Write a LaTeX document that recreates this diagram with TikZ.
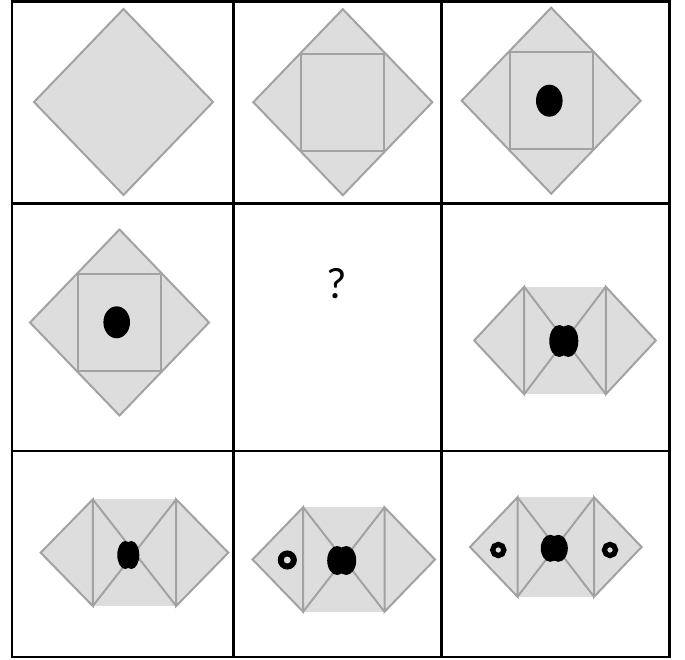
\documentclass[tikz,border=0pt]{standalone}
\usepackage{fontspec}
\setmainfont{Carlito}
\usepackage{xcolor}
\usepackage{tikz}

\definecolor{sheetfill}{HTML}{DDDDDD}
\definecolor{sheetline}{HTML}{A2A2A2}

\begin{document}
\begin{tikzpicture}[
  x=1pt, y=-1pt,
  gridline/.style={draw=black, line width=2.8pt},
  sheet/.style={fill=sheetfill, draw=sheetline, line width=2pt, line join=miter},
  crease/.style={draw=sheetline, line width=2pt},
  ring/.style={draw=black, line width=5pt}
]
\useasboundingbox (0,0) rectangle (685,660);

% --- cell 1: flat sheet ---
\draw[sheet] (34,102) -- (123.5,9) -- (213,102) -- (123.5,195) -- cycle;

% --- cells 2, 3, 4: corners folded in ---
\foreach \cx/\cy in {342.8/102.2, 551.2/100.7, 119.5/322.5}{
  \draw[sheet] ({\cx-89.5},\cy) -- (\cx,{\cy-93}) -- ({\cx+89.5},\cy) -- (\cx,{\cy+93}) -- cycle;
  \draw[crease] ({\cx-41.5},{\cy-48.5}) rectangle ({\cx+41.5},{\cy+48.5});
}

% punched hole
\foreach \dx/\dy in {549.3/100.7, 116.7/322.3}{
  \fill (\dx,\dy) ellipse [x radius=13.3pt, y radius=16pt];
}

% --- cells 6, 7, 8, 9: folded once more ---
\foreach \cx/\cy/\ho/\hi/\hh in {565/340.5/90.8/40.8/53.7, 134.5/552.7/93.8/41.7/53.3,
    343.8/559.5/91.2/40.7/52.2, 555.8/547/85.8/38.3/49.7}{
  \fill[sheetfill] ({\cx-\hi},{\cy-\hh}) rectangle ({\cx+\hi},{\cy+\hh});
  \draw[sheet] ({\cx-\hi},{\cy-\hh}) -- ({\cx-\ho},\cy) -- ({\cx-\hi},{\cy+\hh}) -- cycle;
  \draw[sheet] ({\cx+\hi},{\cy-\hh}) -- ({\cx+\ho},\cy) -- ({\cx+\hi},{\cy+\hh}) -- cycle;
  \draw[crease] ({\cx-\hi},{\cy-\hh}) -- ({\cx+\hi},{\cy+\hh})
                ({\cx+\hi},{\cy-\hh}) -- ({\cx-\hi},{\cy+\hh});
}

% double hole on the fold
\foreach \bx/\by/\rx/\ry/\off in {563.8/341/10/16/4.5, 128.3/555/8/14/3,
    341.7/560.5/10/14.5/4.5, 554.3/548.3/9.5/13.5/4}{
  \fill ({\bx-\off},\by) ellipse [x radius=\rx pt, y radius=\ry pt];
  \fill ({\bx+\off},\by) ellipse [x radius=\rx pt, y radius=\ry pt];
}

% rings
\draw[ring, line width=6pt] (287.3,560) circle [radius=6.5pt];
\foreach \rx in {498.3, 610}{
  \draw[ring, line width=5.2pt] (\rx,550) circle [radius=5.6pt];
}

% missing cell
\node[font=\fontsize{44}{50}\selectfont] (query) at (336.7,283.3) {?};

% grid
\draw[gridline] (12,1.5) rectangle (669.5,657);
\foreach \x in {233.5,441.5}{
  \draw[gridline] (\x,1.5) -- (\x,657);
}
\foreach \y in {203.5,451}{
  \draw[gridline] (12,\y) -- (669.5,\y);
}

\end{tikzpicture}
\end{document}
